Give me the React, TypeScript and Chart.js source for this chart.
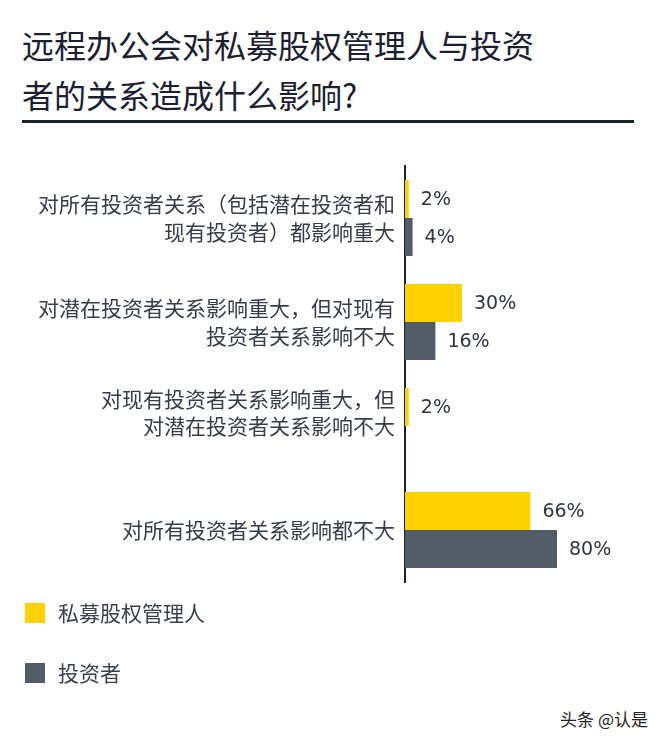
import React, { useEffect, useRef } from "react";
import { Chart, registerables } from "chart.js";

Chart.register(...registerables);

const categories: (string | string[])[] = [
  ["对所有投资者关系（包括潜在投资者和", "现有投资者）都影响重大"],
  ["对潜在投资者关系影响重大，但对现有", "投资者关系影响不大"],
  ["对现有投资者关系影响重大，但", "对潜在投资者关系影响不大", ""],
  "对所有投资者关系影响都不大",
];
const managerValues = [2, 30, 2, 66];
const investorValues = [4, 16, 0, 80];
const seriesNames = ["私募股权管理人", "投资者"];
const titleLines = ["远程办公会对私募股权管理人与投资", "者的关系造成什么影响?"];
const watermark = "头条 @认是";

const YELLOW = "#FFD100";
const GRAY = "#525C66";
const CJK = '"Noto Sans CJK SC", "Noto Sans", sans-serif';

const valueLabels = {
  id: "valueLabels",
  afterDatasetsDraw(chart: any) {
    const ctx = chart.ctx;
    ctx.save();
    ctx.font = '19px "DejaVu Sans", sans-serif';
    ctx.fillStyle = "#2f3440";
    ctx.textAlign = "left";
    ctx.textBaseline = "middle";
    chart.data.datasets.forEach((ds: any, di: number) => {
      const meta = chart.getDatasetMeta(di);
      meta.data.forEach((el: any, i: number) => {
        const v = ds.data[i];
        if (!v) return;
        ctx.fillText(v + "%", el.x + 12, el.y + 1);
      });
    });
    ctx.restore();
  },
};

export default function App() {
  const ref = useRef<HTMLCanvasElement>(null);
  useEffect(() => {
    if (!ref.current) return;
    const chart = new Chart(ref.current, {
      type: "bar",
      data: {
        labels: categories,
        datasets: [
          { label: seriesNames[0], data: managerValues, backgroundColor: YELLOW },
          { label: seriesNames[1], data: investorValues, backgroundColor: GRAY },
        ],
      },
      options: {
        indexAxis: "y",
        responsive: false,
        animation: false,
        layout: { padding: { top: 16, bottom: 18, right: 66, left: 0 } },
        datasets: { bar: { categoryPercentage: 0.73, barPercentage: 1 } } as any,
        plugins: { legend: { display: false }, tooltip: { enabled: false } },
        scales: {
          x: { display: false, min: 0, max: 100 },
          y: {
            afterFit: (s: any) => {
              s.width = 405;
              s.paddingTop = 0;
              s.paddingBottom = 0;
            },
            grid: { display: false, drawTicks: false },
            border: { display: true, color: "#1a2230", width: 2 },
            ticks: {
              padding: 10,
              color: "#363c48",
              font: { family: CJK, size: 21, lineHeight: 1.29 },
            },
          },
        },
      },
      plugins: [valueLabels],
    });
    return () => chart.destroy();
  }, []);

  return (
    <div
      style={{
        position: "absolute",
        left: 0,
        top: 0,
        width: 661,
        height: 744,
        background: "#fff",
        fontFamily: CJK,
      }}
    >
      <div
        style={{
          position: "absolute",
          left: 22,
          top: 19,
          fontSize: 32,
          lineHeight: "50px",
          color: "#1b2030",
          whiteSpace: "nowrap",
        }}
      >
        {titleLines.map((t, i) => (
          <div key={i}>{t}</div>
        ))}
      </div>
      <div
        style={{
          position: "absolute",
          left: 22,
          top: 120,
          width: 612,
          height: 3,
          background: "#1a2230",
        }}
      />
      <canvas
        ref={ref}
        width={661}
        height={450}
        style={{ position: "absolute", left: 0, top: 150, width: 661, height: 450 }}
      />
      {seriesNames.map((n, i) => (
        <div key={n}>
          <div
            style={{
              position: "absolute",
              left: 25,
              top: 603 + i * 60,
              width: 20,
              height: 20,
              background: i === 0 ? YELLOW : GRAY,
            }}
          />
          <div
            style={{
              position: "absolute",
              left: 58,
              top: 597 + i * 60,
              fontSize: 21,
              lineHeight: "30px",
              color: "#3a404c",
              whiteSpace: "nowrap",
            }}
          >
            {n}
          </div>
        </div>
      ))}
      <div
        style={{
          position: "absolute",
          right: 13,
          top: 706,
          fontSize: 17,
          lineHeight: "26px",
          color: "#222",
          whiteSpace: "nowrap",
        }}
      >
        {watermark}
      </div>
    </div>
  );
}
